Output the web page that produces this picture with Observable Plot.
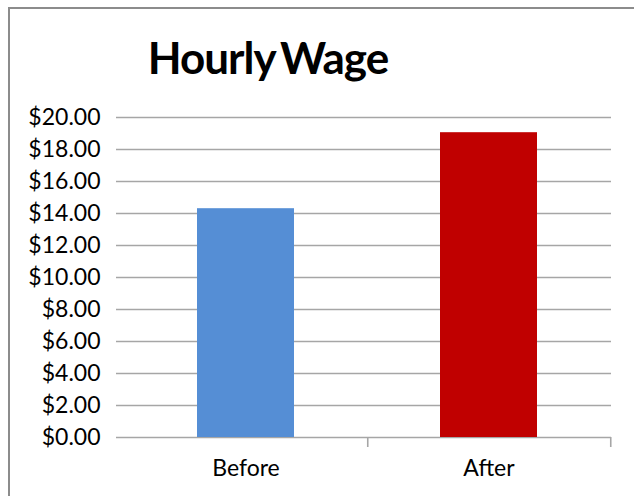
<!DOCTYPE html>
<html>
<head>
<meta charset="utf-8">
<script src="https://cdn.jsdelivr.net/npm/d3@7"></script>
<script src="https://cdn.jsdelivr.net/npm/@observablehq/plot@0.6"></script>
<style>
  html, body { margin: 0; padding: 0; background: #fff; }
  #wrap { position: relative; width: 634px; height: 496px; overflow: hidden; background: #fff; }
  #frame { position: absolute; left: 8px; top: 7px; width: 700px; height: 600px; border: 2px solid #8c8c8c; box-sizing: border-box; }
  #title { position: absolute; left: 0; width: 536px; top: 29px; text-align: center; font-family: Lato, sans-serif; font-weight: 700; font-size: 44px; letter-spacing: -1px; word-spacing: -4px; color: #000; line-height: 56px; }
  #chart { position: absolute; left: 0; top: 0; }
</style>
</head>
<body>
<div id="wrap">
  <div id="frame"></div>
  <div id="title">Hourly Wage</div>
  <div id="chart"></div>
</div>
<script>
const categories = ["Before", "After"];
const wages = [14.30, 19.05];
const colors = ["#558ed5", "#c00000"];
const yTicks = [0, 2, 4, 6, 8, 10, 12, 14, 16, 18, 20];

const data = categories.map((c, i) => ({category: c, wage: wages[i], color: colors[i]}));

const W = 634, H = 496;
const mL = 124, mR = 23;
const step = (W - mL - mR) / categories.length;
const gridColor = "#a6a6a6";

const chart = Plot.plot({
  width: W,
  height: H,
  marginLeft: mL,
  marginRight: mR,
  marginTop: 117,
  marginBottom: 59,
  style: {fontFamily: "Lato, sans-serif", fontSize: "23px", color: "#000", background: "transparent"},
  x: {domain: categories, paddingInner: 0.6, paddingOuter: 0.3, label: null},
  y: {domain: [0, 20], label: null},
  marks: [
    Plot.gridY(yTicks, {stroke: gridColor, strokeOpacity: 1, strokeWidth: 1.6, insetLeft: -8}),
    Plot.axisY(yTicks, {tickSize: 0, tickPadding: 24, tickFormat: d => "$" + d.toFixed(2), fontSize: 23, fill: "#000"}),
    Plot.barY(data, {x: "category", y: "wage", fill: "color"}),
    Plot.ruleX([0], {frameAnchor: "left", stroke: gridColor, strokeWidth: 1.6, insetBottom: -10}),
    Plot.ruleX(categories, {x: d => d, y1: 0, y2: 0, dx: step / 2, stroke: gridColor, strokeWidth: 1.6, insetBottom: -10}),
    Plot.axisX({tickSize: 0, tickPadding: 22, fontSize: 23, fill: "#000"})
  ]
});
document.getElementById("chart").appendChild(chart);
</script>
</body>
</html>
